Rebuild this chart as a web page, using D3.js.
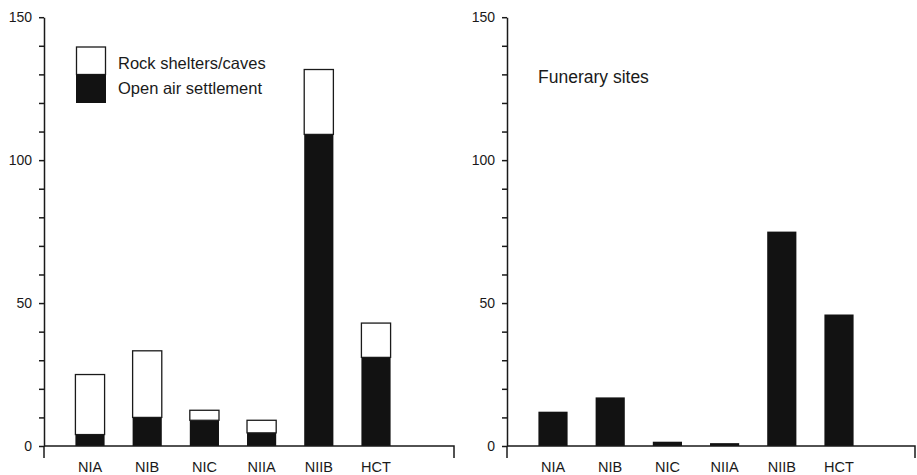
<!DOCTYPE html>
<html>
<head>
<meta charset="utf-8">
<script src="https://cdn.jsdelivr.net/npm/d3@7"></script>
<style>
  html, body { margin: 0; padding: 0; background: #fff; }
  svg { display: block; }
  text { font-family: "Liberation Sans", Arial, sans-serif; fill: #1a1a1a; }
</style>
</head>
<body>
<svg id="chart" width="917" height="475"></svg>
<script>
// ---- data ----
const categories = ["NIA", "NIB", "NIC", "NIIA", "NIIB", "HCT"];
const openAirSettlement = [4, 10, 9, 4.6, 109, 31];
const rockSheltersCaves = [21, 23.3, 3.5, 4.4, 22.7, 12];
const funerarySites = [12, 17, 1.5, 1, 75, 46];
const yTicks = [0, 10, 20, 30, 40, 50, 60, 70, 80, 90, 100, 110, 120, 130, 140, 150];
const yLabels = [0, 50, 100, 150];
const legendLabels = ["Rock shelters/caves", "Open air settlement"];
const panelTitle = "Funerary sites";

const svg = d3.select("#chart");
const ink = "#1a1a1a";
const barFill = "#121212";

const yTop = 17.2, yBase = 446;
const y = d3.scaleLinear().domain([0, 150]).range([yBase, yTop]);

function drawPanel(x0, x1, layers) {
  const g = svg.append("g");
  const step = 57.2;
  const x = d3.scaleBand()
    .domain(categories)
    .range([x0 + 17.4, x0 + 17.4 + step * categories.length])
    .paddingInner(0.49)
    .paddingOuter(0.245);

  // bars
  layers.forEach(layer => {
    g.append("g").selectAll("rect")
      .data(layer.data)
      .join("rect")
      .attr("x", d => x(d.cat))
      .attr("width", x.bandwidth())
      .attr("y", d => y(d.y1))
      .attr("height", d => y(d.y0) - y(d.y1))
      .attr("fill", layer.fill)
      .attr("stroke", layer.stroke)
      .attr("stroke-width", layer.stroke === "none" ? 0 : 1.3);
  });

  // y axis
  const yAxis = d3.axisLeft(y)
    .tickValues(yTicks)
    .tickSize(5)
    .tickSizeOuter(0)
    .tickPadding(7)
    .tickFormat(d => yLabels.includes(d) ? d : "");
  const ya = g.append("g").attr("transform", `translate(${x0},0)`).call(yAxis);
  ya.selectAll("path, line").attr("stroke", ink).attr("stroke-width", 1.5);
  ya.selectAll("text").style("font-size", "14px").attr("fill", ink)
    .style("font-family", "'Liberation Sans', Arial, sans-serif");

  // extension of y axis below baseline
  g.append("line").attr("x1", x0).attr("x2", x0).attr("y1", yBase).attr("y2", yBase + 12)
    .attr("stroke", ink).attr("stroke-width", 1.5);

  // x baseline with end tick
  g.append("path")
    .attr("d", `M${x0},${yBase}H${x1}V${yBase + 12}`)
    .attr("fill", "none").attr("stroke", ink).attr("stroke-width", 1.5);

  // category labels
  const xAxis = d3.axisBottom(x).tickSize(0).tickPadding(16);
  const xa = g.append("g").attr("transform", `translate(0,${yBase})`).call(xAxis);
  xa.select(".domain").remove();
  xa.selectAll("text").style("font-size", "14.5px").attr("fill", ink)
    .style("font-family", "'Liberation Sans', Arial, sans-serif");
  return g;
}

// left panel: stacked
const leftRows = categories.map((c, i) => ({
  cat: c, openAir: openAirSettlement[i], rock: rockSheltersCaves[i]
}));
const stack = d3.stack().keys(["openAir", "rock"])(leftRows);
const leftLayers = [
  { fill: barFill, stroke: "none",
    data: stack[0].map(d => ({ cat: d.data.cat, y0: d[0], y1: d[1] })) },
  { fill: "#fff", stroke: ink,
    data: stack[1].map(d => ({ cat: d.data.cat, y0: d[0], y1: d[1] })) }
];
drawPanel(44, 454, leftLayers);

// right panel
const rightLayers = [
  { fill: barFill, stroke: "none",
    data: categories.map((c, i) => ({ cat: c, y0: 0, y1: funerarySites[i] })) }
];
drawPanel(507, 915, rightLayers);

// legend
const lg = svg.append("g");
lg.append("rect").attr("x", 76.5).attr("y", 47).attr("width", 29).attr("height", 27.5)
  .attr("fill", "#fff").attr("stroke", ink).attr("stroke-width", 1.3);
lg.append("rect").attr("x", 76).attr("y", 74.5).attr("width", 30).attr("height", 28.5)
  .attr("fill", barFill);
lg.selectAll("text.lab").data(legendLabels).join("text")
  .attr("class", "lab")
  .attr("x", 118).attr("y", (d, i) => 68.5 + i * 25)
  .style("font-size", "16.5px")
  .text(d => d);

// right panel title
svg.append("text").attr("x", 538).attr("y", 83).style("font-size", "17.5px").text(panelTitle);
</script>
</body>
</html>
